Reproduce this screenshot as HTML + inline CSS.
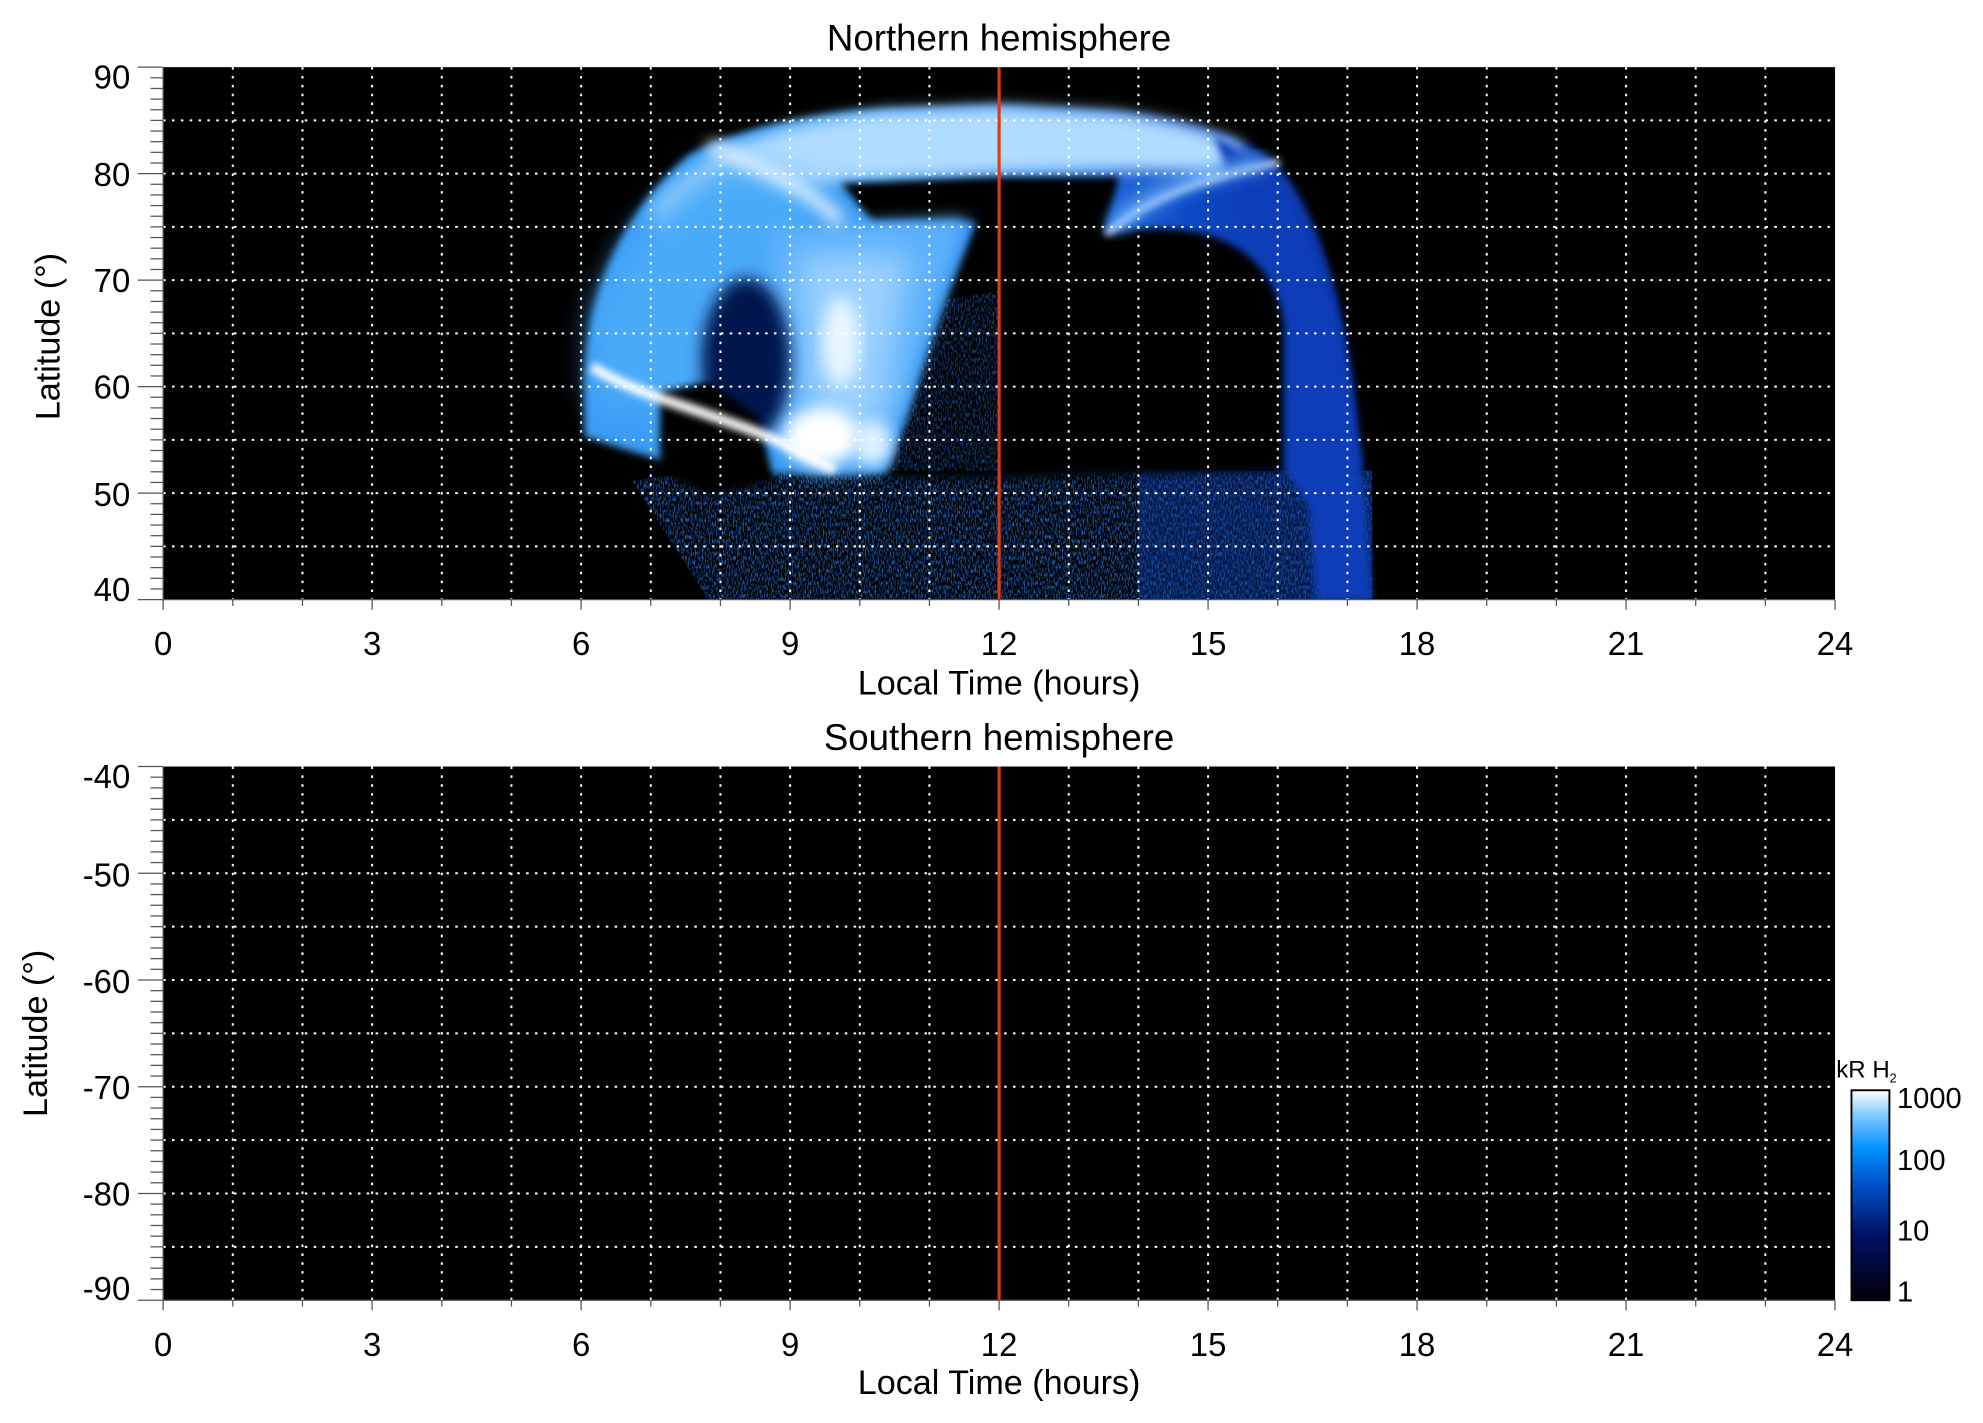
<!DOCTYPE html>
<html><head><meta charset="utf-8"><style>
html,body{margin:0;padding:0;background:#fff}
svg{display:block}
text{font-family:"Liberation Sans",sans-serif;fill:#000}
</style></head><body>
<svg id="s" width="1983" height="1423" viewBox="0 0 1568 1125" xmlns="http://www.w3.org/2000/svg">
<defs>
<clipPath id="cp"><rect x="129" y="53" width="1322" height="421"/></clipPath>
<filter id="b3" x="-20%" y="-20%" width="140%" height="140%"><feGaussianBlur stdDeviation="3"/></filter>
<filter id="b6" x="-20%" y="-20%" width="140%" height="140%"><feGaussianBlur stdDeviation="6"/></filter>
<filter id="b12" x="-30%" y="-30%" width="160%" height="160%"><feGaussianBlur stdDeviation="12"/></filter>
<filter id="noise" x="0" y="0" width="100%" height="100%">
<feTurbulence type="fractalNoise" baseFrequency="0.9 0.3" numOctaves="2" seed="3" result="t"/>
<feColorMatrix in="t" type="matrix" values="0 0 0 0 0.02  0 0 0 0 0.18  0 0 0 0 0.75  0 0 0 2.2 -0.9"/>
<feComposite in2="SourceGraphic" operator="in"/>
</filter>
<linearGradient id="cb" x1="0" y1="1" x2="0" y2="0">
<stop offset="0" stop-color="#000008"/>
<stop offset="0.3" stop-color="#001060"/>
<stop offset="0.55" stop-color="#0050c8"/>
<stop offset="0.72" stop-color="#0090ff"/>
<stop offset="0.88" stop-color="#80c8ff"/>
<stop offset="1" stop-color="#ffffff"/>
</linearGradient>
<linearGradient id="outerg" x1="0" y1="0" x2="1" y2="0">
<stop offset="0" stop-color="#3a9cf5"/>
<stop offset="0.35" stop-color="#3a9cf5"/>
<stop offset="0.6" stop-color="#2a7ae8"/>
<stop offset="0.8" stop-color="#0c44c0"/>
<stop offset="1" stop-color="#0a34a8"/>
</linearGradient>
</defs>

<rect x="129" y="53" width="1322" height="421" fill="#000"/>
<g clip-path="url(#cp)">
<path d="M500,380 L560,372 L1085,372 L1085,474 L560,474 Z" fill="#fff" filter="url(#noise)"/>
<path d="M900,372 L1085,372 L1085,474 L900,474 Z" fill="#0c3cae" opacity="0.4"/>
<path d="M462,300 C465,230 490,170 545,122 C590,100 640,90 700,86 L790,83 L880,88 C930,93 975,105 1005,125 C1040,160 1060,230 1070,300 L1078,372 L1015,372 L1015,370 L560,375 C540,368 500,358 462,345 Z" fill="url(#outerg)" filter="url(#b3)"/>
<path d="M515,165 C555,118 610,98 700,88 L790,84 L880,89 C925,94 960,104 985,115 L960,140 C920,132 880,135 790,137 L670,142 C610,150 570,180 545,230 Z" fill="#b0dcff" filter="url(#b6)"/>
<path d="M960,108 C1010,130 1050,200 1065,300 L1080,400 L1085,474 L1040,474 L1035,400 L1015,370 C1020,300 1012,220 990,180 Z" fill="#0a3cb8" filter="url(#b3)"/>
<path d="M470,250 C490,190 530,150 580,125 L650,150 L620,220 L560,330 L470,320 Z" fill="#4aaaf8" filter="url(#b12)"/>
<path d="M665,145 L790,140 L885,140 L872,185 C955,170 1005,195 1015,255 L1015,372 L790,378 L700,378 L720,320 L742,250 L772,175 L690,175 Z" fill="#000" filter="url(#b3)"/>
<path d="M730,240 L790,230 L790,372 L700,372 Z" fill="#fff" filter="url(#noise)" opacity="0.7"/>
<path d="M610,180 L765,172 L740,250 L715,320 L695,372 L640,375 L600,330 Z" fill="#5ab0fa" filter="url(#b6)"/>
<path d="M630,200 L720,200 L700,330 L640,360 Z" fill="#9ad0ff" filter="url(#b12)"/>
<ellipse cx="590" cy="285" rx="35" ry="65" fill="#06184e" filter="url(#b6)"/>
<path d="M522,310 L560,302 L600,330 L612,380 L560,392 L522,372 Z" fill="#000" filter="url(#b3)"/>
<path d="M468,290 C500,310 540,320 580,335 C610,345 640,360 660,372" stroke="#fff" stroke-width="8" fill="none" filter="url(#b3)"/>
<ellipse cx="650" cy="345" rx="30" ry="22" fill="#fff" filter="url(#b6)"/>
<ellipse cx="690" cy="350" rx="15" ry="18" fill="#e0f2ff" filter="url(#b6)"/>
<ellipse cx="665" cy="270" rx="15" ry="35" fill="#e8f6ff" filter="url(#b6)"/>
<path d="M560,115 C600,130 640,150 665,175" stroke="#e8f6ff" stroke-width="10" fill="none" filter="url(#b6)"/>
<path d="M875,185 C905,158 950,140 1012,128" stroke="#fff" stroke-width="4" fill="none" filter="url(#b3)"/>
<path d="M880,180 C910,150 950,138 1000,128" stroke="#6ab8ff" stroke-width="14" fill="none" filter="url(#b6)" opacity="0.7"/>
</g>
<g id="grid1"></g>
<line x1="790" y1="53" x2="790" y2="474" stroke="#e03a10" stroke-width="2.5"/>

<rect x="129" y="606" width="1322" height="422" fill="#000"/>
<g id="grid2"></g>
<line x1="790" y1="606" x2="790" y2="1028" stroke="#e03a10" stroke-width="2.5"/>

<g id="axes"></g>

<text x="790" y="40" font-size="29" text-anchor="middle">Northern hemisphere</text>
<text x="790" y="593" font-size="29" text-anchor="middle">Southern hemisphere</text>
<text x="790" y="549" font-size="27" text-anchor="middle">Local Time (hours)</text>
<text x="790" y="1102" font-size="27" text-anchor="middle">Local Time (hours)</text>
<text transform="translate(47,266) rotate(-90)" font-size="27" text-anchor="middle">Latitude (°)</text>
<text transform="translate(37,817) rotate(-90)" font-size="27" text-anchor="middle">Latitude (°)</text>

<rect x="1464" y="862" width="30" height="166" fill="url(#cb)" stroke="#000" stroke-width="1.5"/>
<text x="1452" y="852" font-size="19">kR H<tspan font-size="10" dy="4">2</tspan></text>
<text x="1500" y="876" font-size="23">1000</text>
<text x="1500" y="925" font-size="23">100</text>
<text x="1500" y="981" font-size="23">10</text>
<text x="1500" y="1029" font-size="23">1</text>
</svg>
<script>
(function(){
var NS="http://www.w3.org/2000/svg";
function el(p,t,a,txt){var e=document.createElementNS(NS,t);for(var k in a)e.setAttribute(k,a[k]);if(txt!=null)e.textContent=txt;p.appendChild(e);return e;}
var L=129,R=1451,W=R-L;
function panel(g,top,bot,labels,labelY){
  var H=bot-top;
  for(var h=1;h<24;h++){var x=L+W*h/24;el(g,"line",{x1:x,y1:top,x2:x,y2:bot,stroke:"#fff","stroke-width":1.6,"stroke-dasharray":"2 5"});}
  for(var i=1;i<10;i++){var y=top+H*i/10;el(g,"line",{x1:L,y1:y,x2:R,y2:y,stroke:"#fff","stroke-width":1.6,"stroke-dasharray":"2 5"});}
  var a=document.getElementById("axes");
  el(a,"line",{x1:L,y1:bot,x2:R,y2:bot,stroke:"#555","stroke-width":1});
  el(a,"line",{x1:L,y1:top,x2:L,y2:bot,stroke:"#555","stroke-width":1});
  for(var h=0;h<=24;h++){var x=L+W*h/24;el(a,"line",{x1:x,y1:bot,x2:x,y2:bot+(h%3==0?8:5),stroke:"#555","stroke-width":1});
    if(h%3==0)el(a,"text",{x:x,y:bot+44,"font-size":26,"text-anchor":"middle"},String(h));}
  for(var j=0;j<=50;j++){var y=top+H*j/50;var maj=(j%10==0);el(a,"line",{x1:maj?L-20:L-10,y1:y,x2:L,y2:y,stroke:"#555","stroke-width":1});}
  for(var k=0;k<6;k++)el(a,"text",{x:103,y:labelY[k]+9,"font-size":26,"text-anchor":"end"},labels[k]);
}
panel(document.getElementById("grid1"),53,474,["90","80","70","60","50","40"],[61,138,222,306,391,466]);
panel(document.getElementById("grid2"),606,1028,["-40","-50","-60","-70","-80","-90"],[614,692,776,860,944,1019]);
})();
</script>
</body></html>
